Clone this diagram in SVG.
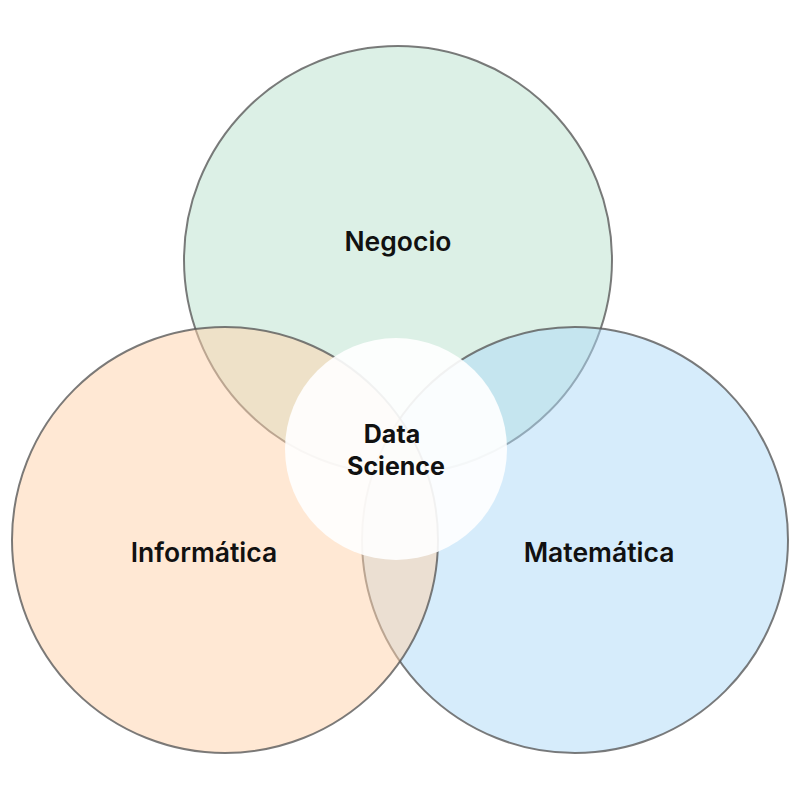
<svg xmlns="http://www.w3.org/2000/svg" width="800" height="800" viewBox="0 0 800 800">
  <style>
    .set { stroke: #5a5a5a; stroke-width: 2; stroke-opacity: 0.8; }
    .label { font-family: "Inter", "Noto Sans", "Liberation Sans", sans-serif; font-weight: 600; fill: #111; text-anchor: middle; }
    .big { font-size: 26.5px; }
    .core { font-size: 25px; font-weight: 700; }
  </style>
  <rect width="800" height="800" fill="#ffffff"/>
  <g id="negocio">
    <circle class="set" cx="398" cy="260" r="214" fill="#b9e1cd" fill-opacity="0.5"/>
  </g>
  <g id="matematica">
    <circle class="set" cx="575" cy="540" r="213" fill="#add9f7" fill-opacity="0.5"/>
  </g>
  <g id="informatica">
    <circle class="set" cx="225" cy="540" r="213" fill="#ffd1a9" fill-opacity="0.5"/>
  </g>
  <g id="data-science">
    <circle cx="396" cy="449" r="111" fill="#ffffff" fill-opacity="0.9"/>
  </g>
  <g id="labels">
    <text class="label big" x="398" y="251">Negocio</text>
    <text class="label big" x="204" y="562">Informática</text>
    <text class="label big" x="599" y="562">Matemática</text>
    <text class="label core" x="392" y="443">Data</text>
    <text class="label core" x="396" y="475">Science</text>
  </g>
</svg>
